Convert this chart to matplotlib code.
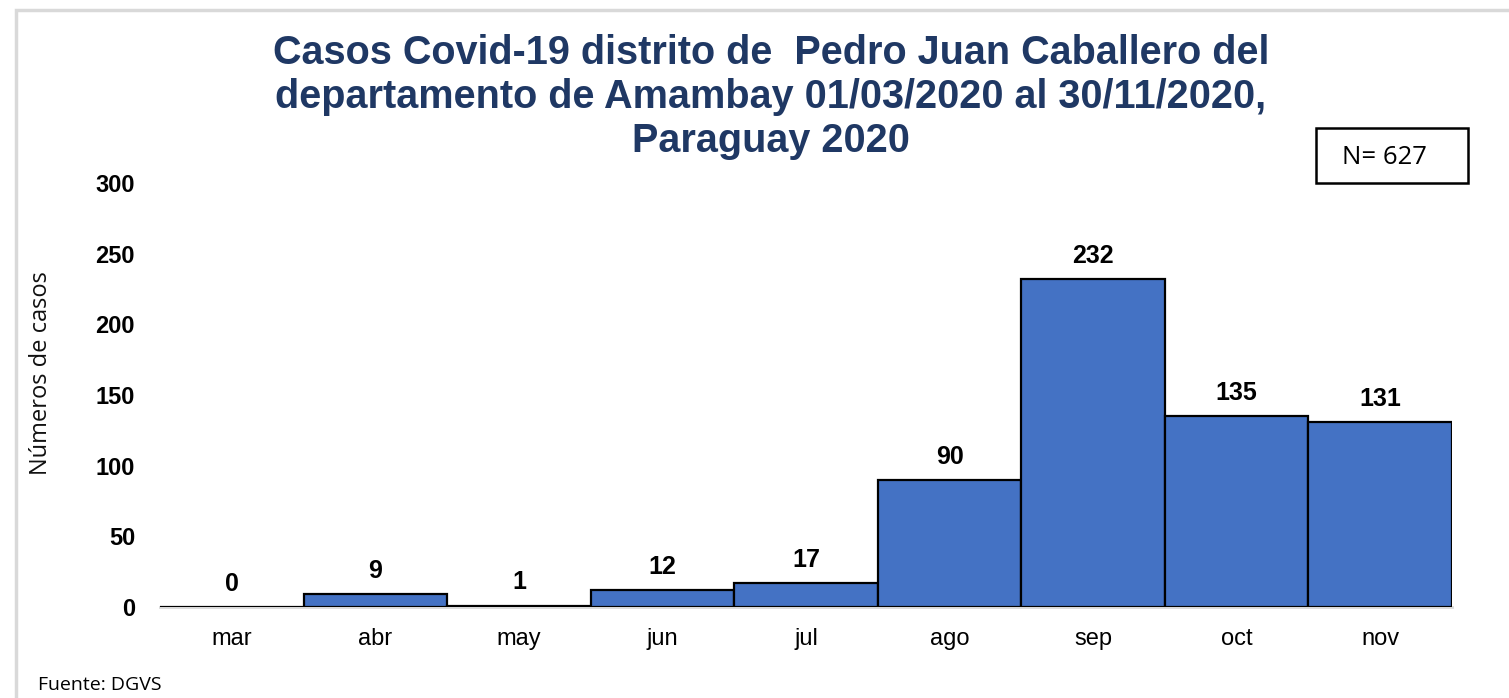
import matplotlib
matplotlib.use("Agg")
import matplotlib.pyplot as plt
from matplotlib.patches import Rectangle

meses = ["mar", "abr", "may", "jun", "jul", "ago", "sep", "oct", "nov"]
casos = [0, 9, 1, 12, 17, 90, 232, 135, 131]
yticks = [0, 50, 100, 150, 200, 250, 300]

titulo = ("Casos Covid-19 distrito de  Pedro Juan Caballero del\n"
          "departamento de Amambay 01/03/2020 al 30/11/2020,\n"
          "Paraguay 2020")

W, H = 1509, 698
fig = plt.figure(figsize=(W / 100, H / 100), dpi=100)
fig.patch.set_facecolor("white")

# marco gris exterior
fig.add_artist(Rectangle((16 / W, -0.1), 1.2, 1 - 10 / H + 0.1, transform=fig.transFigure,
                         fill=False, edgecolor="#d9d9d9", linewidth=2.5))

ax = fig.add_axes([160 / W, 1 - 607 / H, (1452 - 160) / W, (607 - 183) / H])
x = range(len(meses))
ax.bar(x, casos, width=1.0, color="#4472c4", edgecolor="black", linewidth=1.6, zorder=2)

for i, v in enumerate(casos):
    ax.annotate(str(v), (i, v), xytext=(0, 8), textcoords="offset points",
                ha="center", va="bottom", fontsize=18, fontweight="bold",
                family="Liberation Sans")

ax.set_xlim(-0.5, len(meses) - 0.5)
ax.set_ylim(0, 300)
ax.set_yticks(yticks)
ax.set_yticklabels([str(t) for t in yticks], fontsize=17, fontweight="bold",
                   family="Liberation Sans")
ax.set_xticks(list(x))
ax.set_xticklabels(meses, fontsize=17, family="Liberation Sans")
ax.tick_params(axis="y", length=0, pad=18)
ax.tick_params(axis="x", length=0, pad=15)
for s in ["top", "right", "left"]:
    ax.spines[s].set_visible(False)
ax.spines["bottom"].set_color("#d9d9d9")
ax.spines["bottom"].set_linewidth(2)
ax.spines["bottom"].set_zorder(1)

ax.set_ylabel("Números de casos", fontsize=17, family="Open Sans", color="#111111")
ax.yaxis.set_label_coords(-0.083, 0.552)

fig.text(771 / W, 1 - 34 / H, titulo, ha="center", va="top", fontsize=28.5,
         fontweight="bold", color="#1f3864", family="Liberation Sans", linespacing=1.2)

fig.add_artist(Rectangle((1316 / W, 1 - 183 / H), 152 / W, 55 / H, transform=fig.transFigure,
                         facecolor="white", edgecolor="black", linewidth=1.8))
fig.text(1384 / W, 1 - 157 / H, "N= 627", ha="center", va="center", fontsize=18.5,
         family="Open Sans")
fig.text(38 / W, 1 - 685 / H, "Fuente: DGVS", ha="left", va="center", fontsize=14,
         family="Open Sans")

fig.savefig("out.png", dpi=100)
